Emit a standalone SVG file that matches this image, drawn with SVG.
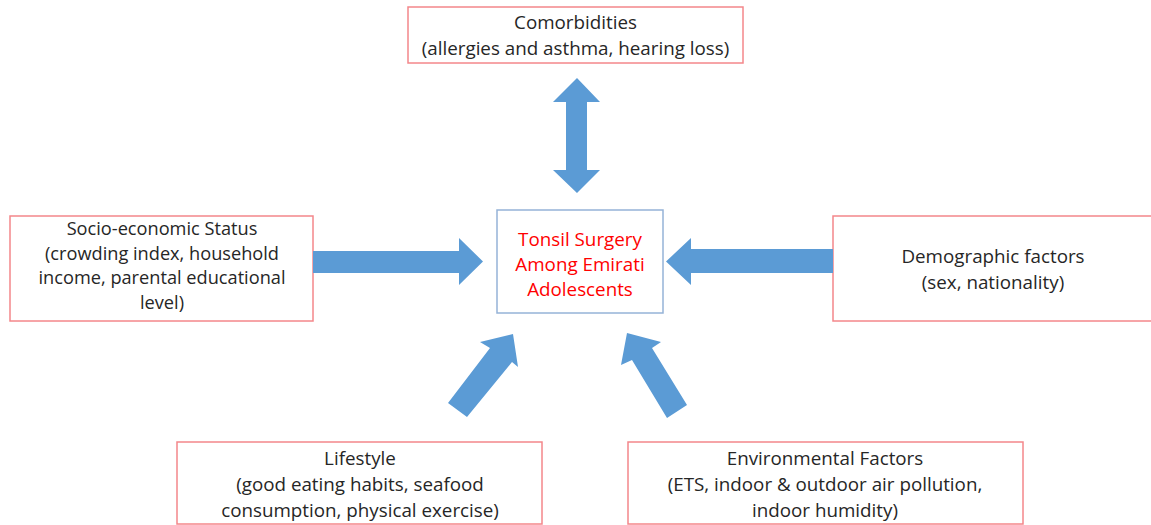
<svg xmlns="http://www.w3.org/2000/svg" width="1151" height="525" viewBox="0 0 1151 525">
<style>
.box{fill:#fff;stroke:#F4878A;stroke-width:1.5}
.cbox{fill:#fff;stroke:#95B3D7;stroke-width:1.5}
.t{font-family:"Open Sans","Liberation Sans",sans-serif;font-size:18.8px;fill:#262626;text-anchor:middle}
.s{font-size:18.2px}
.r{fill:#FF0000}
.arrow{fill:#5B9BD5}
</style>
<rect width="1151" height="525" fill="#fff"/>
<g id="comorbidities">
<rect class="box" x="408" y="7" width="335" height="56"/>
<text class="t" x="575.5" y="29">Comorbidities</text>
<text class="t" x="575.5" y="55">(allergies and asthma, hearing loss)</text>
</g>
<g id="socio">
<rect class="box" x="10" y="216" width="303" height="105"/>
<text class="t s" x="162" y="235">Socio-economic Status</text>
<text class="t s" x="162" y="259.5">(crowding index, household</text>
<text class="t s" x="162" y="284">income, parental educational</text>
<text class="t s" x="162" y="308.5">level)</text>
</g>
<g id="center">
<rect class="cbox" x="497" y="210" width="166" height="103"/>
<text class="t r" x="580" y="246">Tonsil Surgery</text>
<text class="t r" x="580" y="271">Among Emirati</text>
<text class="t r" x="580" y="296">Adolescents</text>
</g>
<g id="demographic">
<rect class="box" x="833" y="216" width="320" height="105"/>
<text class="t" x="993" y="263">Demographic factors</text>
<text class="t" x="993" y="289">(sex, nationality)</text>
</g>
<g id="lifestyle">
<rect class="box" x="177" y="442" width="365" height="82"/>
<text class="t" x="360" y="465">Lifestyle</text>
<text class="t" x="360" y="491">(good eating habits, seafood</text>
<text class="t" x="360" y="517">consumption, physical exercise)</text>
</g>
<g id="environmental">
<rect class="box" x="628" y="442" width="395" height="82"/>
<text class="t" x="825" y="465">Environmental Factors</text>
<text class="t" x="825" y="491">(ETS, indoor &amp; outdoor air pollution,</text>
<text class="t" x="825" y="517">indoor humidity)</text>
</g>
<g id="connectors">
<polygon class="arrow" points="577,78 600,102 587,102 587,170 600,170 577,193 553,170 566,170 566,102 553,102"/>
<polygon class="arrow" points="313,251 459,251 459,238 483,261.5 459,285 459,273 313,273"/>
<polygon class="arrow" points="833,249 691,249 691,238 666,261.5 691,285 691,273 833,273"/>
<polygon class="arrow" points="513,334 518,367 512,362 467,417 448,403 490,348 480,342"/>
<polygon class="arrow" points="627,333 661,342 652,348 687,405 667,418 632,360 621,365"/>
</g>
</svg>
